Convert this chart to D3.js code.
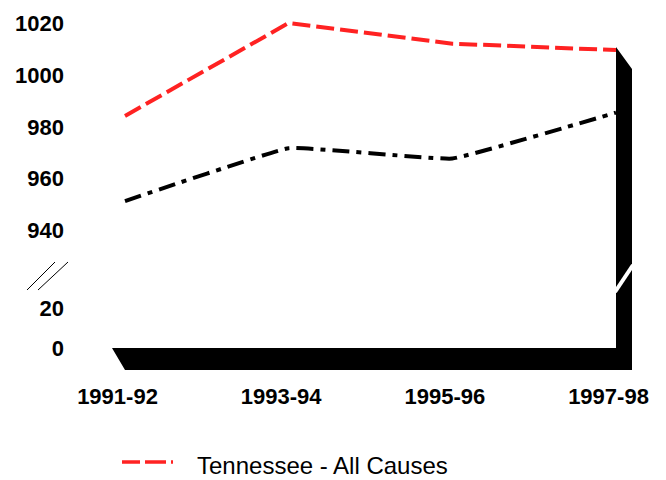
<!DOCTYPE html>
<html>
<head>
<meta charset="utf-8">
<script src="https://cdn.jsdelivr.net/npm/d3@7"></script>
<style>
  html, body { margin: 0; padding: 0; background: #fff; }
  svg { display: block; }
</style>
</head>
<body>
<svg id="chart" width="666" height="480"></svg>
<script>
const categories = ["1991-92", "1993-94", "1995-96", "1997-98"];
const tennesseeAllCauses = [984, 1020, 1012, 1009.5];
const secondSeries = [951, 971.5, 967.5, 985.3];
const upperTicks = [940, 960, 980, 1000, 1020];
const lowerTicks = [0, 20];
const legendLabel = "Tennessee - All Causes";

const svg = d3.select("#chart");

const x = d3.scalePoint().domain(categories).range([125, 616]);
const yTop = d3.scaleLinear().domain([940, 1020]).range([229.5, 23]);
const yBot = d3.scaleLinear().domain([0, 20]).range([348, 308]);

// 3D frame (floor + right wall)
const depthX = 16, depthY = 22;
const floorY = yBot(0);
const wallX = x(categories[categories.length - 1]);
const wallTop = yTop(tennesseeAllCauses[tennesseeAllCauses.length - 1]) - 3;
const leftX = 112;
svg.append("path")
  .attr("d", d3.line()([
    [leftX, floorY], [wallX, floorY], [wallX, wallTop],
    [wallX + depthX, wallTop + depthY], [wallX + depthX, floorY + depthY],
    [leftX + 13, floorY + depthY]
  ]) + "Z")
  .attr("fill", "#000");

// break on the wall
svg.append("line")
  .attr("x1", wallX - 1).attr("y1", 292)
  .attr("x2", wallX + depthX + 1).attr("y2", 265)
  .attr("stroke", "#fff").attr("stroke-width", 4);

// break marks on the axis
[[27, 55], [38, 68]].forEach(([a, b]) => {
  svg.append("line")
    .attr("x1", a).attr("y1", 290).attr("x2", b).attr("y2", 262)
    .attr("stroke", "#000").attr("stroke-width", 1);
});

// y axes (labels only)
function styleAxis(g) {
  g.select(".domain").remove();
  g.selectAll("line").remove();
  g.selectAll("text")
    .attr("font-family", "'Liberation Sans', Arial, Helvetica, sans-serif")
    .attr("font-weight", "bold")
    .attr("font-size", 22)
    .attr("fill", "#000");
}
svg.append("g").attr("transform", "translate(64,0)")
  .call(d3.axisLeft(yTop).tickValues(upperTicks).tickSize(0).tickPadding(0).tickFormat(d3.format("d")))
  .call(styleAxis)
  .selectAll("text").attr("dy", "0.36em");
svg.append("g").attr("transform", "translate(64,0)")
  .call(d3.axisLeft(yBot).tickValues(lowerTicks).tickSize(0).tickPadding(0).tickFormat(d3.format("d")))
  .call(styleAxis)
  .selectAll("text").attr("dy", "0.36em");

// x axis labels
svg.append("g").attr("transform", "translate(-8,404)")
  .call(d3.axisBottom(x).tickSize(0).tickPadding(0))
  .call(styleAxis)
  .selectAll("text").attr("y", 0).attr("dy", 0);

// lines
const lineRed = d3.line().x((d, i) => x(categories[i])).y(d => yTop(d));
const lineBlack = d3.line().x((d, i) => x(categories[i])).y(d => yTop(d)).curve(d3.curveCardinal.tension(0.75));

svg.append("path")
  .datum(secondSeries)
  .attr("d", lineBlack)
  .attr("fill", "none")
  .attr("stroke", "#000")
  .attr("stroke-width", 4)
  .attr("stroke-dasharray", "17,7,5,7");

svg.append("path")
  .datum(tennesseeAllCauses)
  .attr("d", lineRed)
  .attr("fill", "none")
  .attr("stroke", "#ff2222")
  .attr("stroke-width", 4)
  .attr("stroke-dasharray", "18,6");

// legend
const lg = svg.append("g");
lg.append("line")
  .attr("x1", 122).attr("x2", 173).attr("y1", 462).attr("y2", 462)
  .attr("stroke", "#ff2222").attr("stroke-width", 3.5)
  .attr("stroke-dasharray", "18,5,21,5,4,10");
lg.append("text")
  .attr("x", 197).attr("y", 474)
  .attr("font-family", "'Liberation Sans', Arial, Helvetica, sans-serif")
  .attr("font-size", 24)
  .attr("fill", "#000")
  .text(legendLabel);
</script>
</body>
</html>
